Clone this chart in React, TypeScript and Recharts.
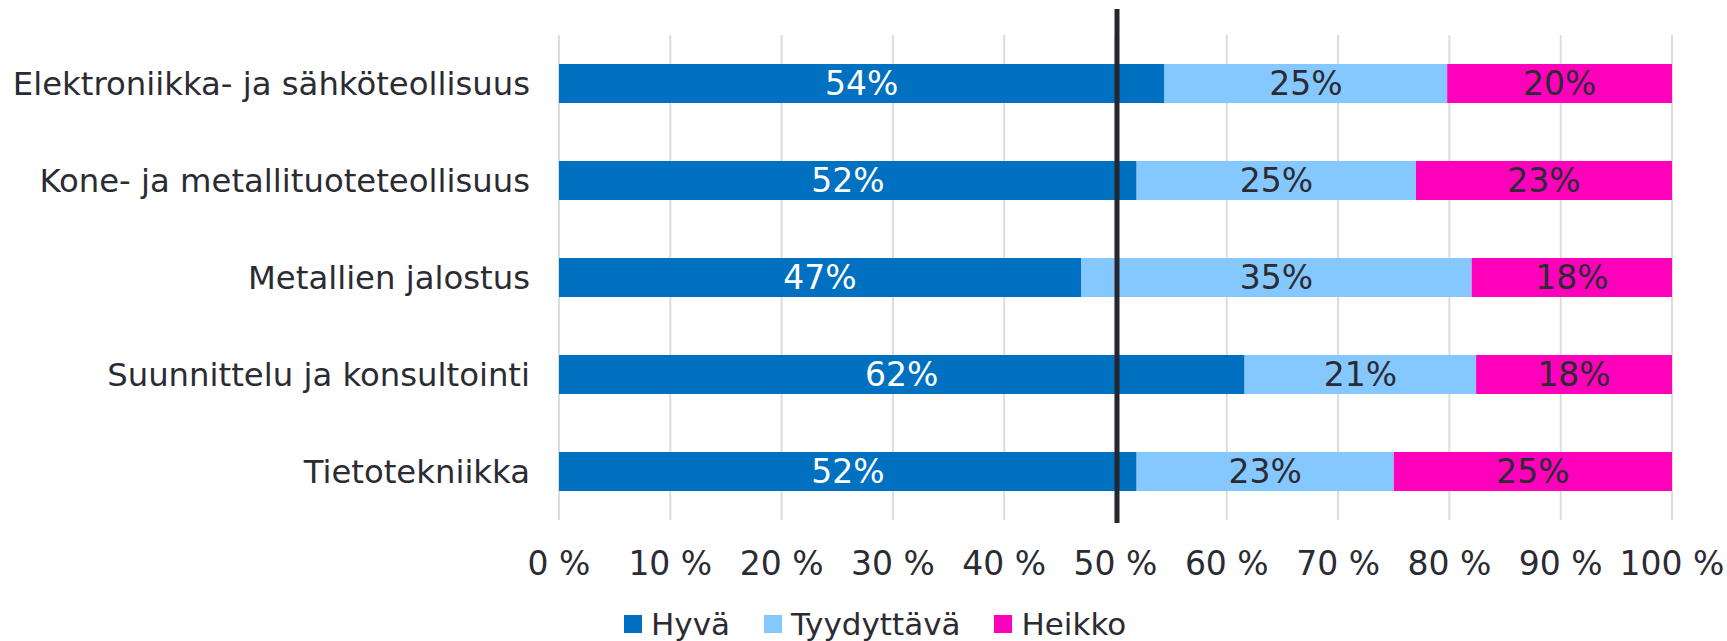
import React from 'react';
import {
  BarChart, Bar, XAxis, YAxis, CartesianGrid, ReferenceLine, LabelList,
} from 'recharts';

const categories: string[] = [
  'Elektroniikka- ja sähköteollisuus',
  'Kone- ja metallituoteteollisuus',
  'Metallien jalostus',
  'Suunnittelu ja konsultointi',
  'Tietotekniikka',
];

const hyva: number[] = [54.4, 51.9, 46.9, 61.6, 51.9];
const tyydyttava: number[] = [25.4, 25.1, 35.1, 20.8, 23.1];
const heikko: number[] = [20.2, 23.0, 18.0, 17.6, 25.0];

const xTicks: number[] = [0, 10, 20, 30, 40, 50, 60, 70, 80, 90, 100];

const seriesNames = ['Hyvä', 'Tyydyttävä', 'Heikko'];
const colors = ['#0070C0', '#85C8FF', '#FF00BB'];

const data = categories.map((name, i) => ({
  name,
  hyva: hyva[i],
  tyydyttava: tyydyttava[i],
  heikko: heikko[i],
}));

const FONT = '"DejaVu Sans", Verdana, sans-serif';
const TEXT = '#2b2b33';

const pct = (v: any) => `${Math.round(Number(v))}%`;

// the 50 % line reaches above the plot area
const BlackLine = (props: any) => {
  const { x1, y1, y2 } = props;
  const top = Math.min(y1, y2);
  const bottom = Math.max(y1, y2);
  return <line x1={x1 + 1.5} x2={x1 + 1.5} y1={top - 26} y2={bottom + 3} stroke="#26262e" strokeWidth={5} />;
};

const App: React.FC = () => {
  return (
    <div style={{ position: 'absolute', left: 0, top: 0, width: 1727, height: 641, background: '#fff', fontFamily: FONT }}>
      <BarChart
        width={1727}
        height={641}
        data={data}
        layout="vertical"
        barSize={39}
        margin={{ top: 35, right: 55, left: 0, bottom: 0 }}
      >
        <CartesianGrid horizontal={false} stroke="#dcdcdc" strokeWidth={2} />
        <XAxis
          type="number"
          domain={[0, 100]}
          ticks={xTicks}
          tickFormatter={(v) => `${v} %`}
          axisLine={false}
          tickLine={false}
          tickMargin={26}
          height={121}
          tick={{ fill: TEXT, fontSize: 33, fontFamily: FONT }}
        />
        <YAxis
          type="category"
          dataKey="name"
          width={559}
          axisLine={false}
          tickLine={false}
          tickMargin={23}
          tick={{ fill: TEXT, fontSize: 32.3, fontFamily: FONT }}
        />
        <Bar dataKey="hyva" stackId="a" fill={colors[0]} isAnimationActive={false}>
          <LabelList dataKey="hyva" position="center" formatter={pct} fill="#ffffff" fontSize={33} fontFamily={FONT} />
        </Bar>
        <Bar dataKey="tyydyttava" stackId="a" fill={colors[1]} isAnimationActive={false}>
          <LabelList dataKey="tyydyttava" position="center" formatter={pct} fill={TEXT} fontSize={33} fontFamily={FONT} />
        </Bar>
        <Bar dataKey="heikko" stackId="a" fill={colors[2]} isAnimationActive={false}>
          <LabelList dataKey="heikko" position="center" formatter={pct} fill={TEXT} fontSize={33} fontFamily={FONT} />
        </Bar>
        <ReferenceLine x={50} shape={BlackLine} />
      </BarChart>
      <div
        style={{
          position: 'absolute', left: 624, top: 605, display: 'flex', alignItems: 'center',
          fontSize: 31, color: TEXT, fontFamily: FONT, lineHeight: '38px', whiteSpace: 'nowrap',
        }}
      >
        {seriesNames.map((s, i) => (
          <div key={s} style={{ display: 'flex', alignItems: 'center', marginRight: 34 }}>
            <span style={{ width: 18, height: 18, background: colors[i], display: 'inline-block', marginRight: 9 }} />
            <span>{s}</span>
          </div>
        ))}
      </div>
    </div>
  );
};

export default App;
